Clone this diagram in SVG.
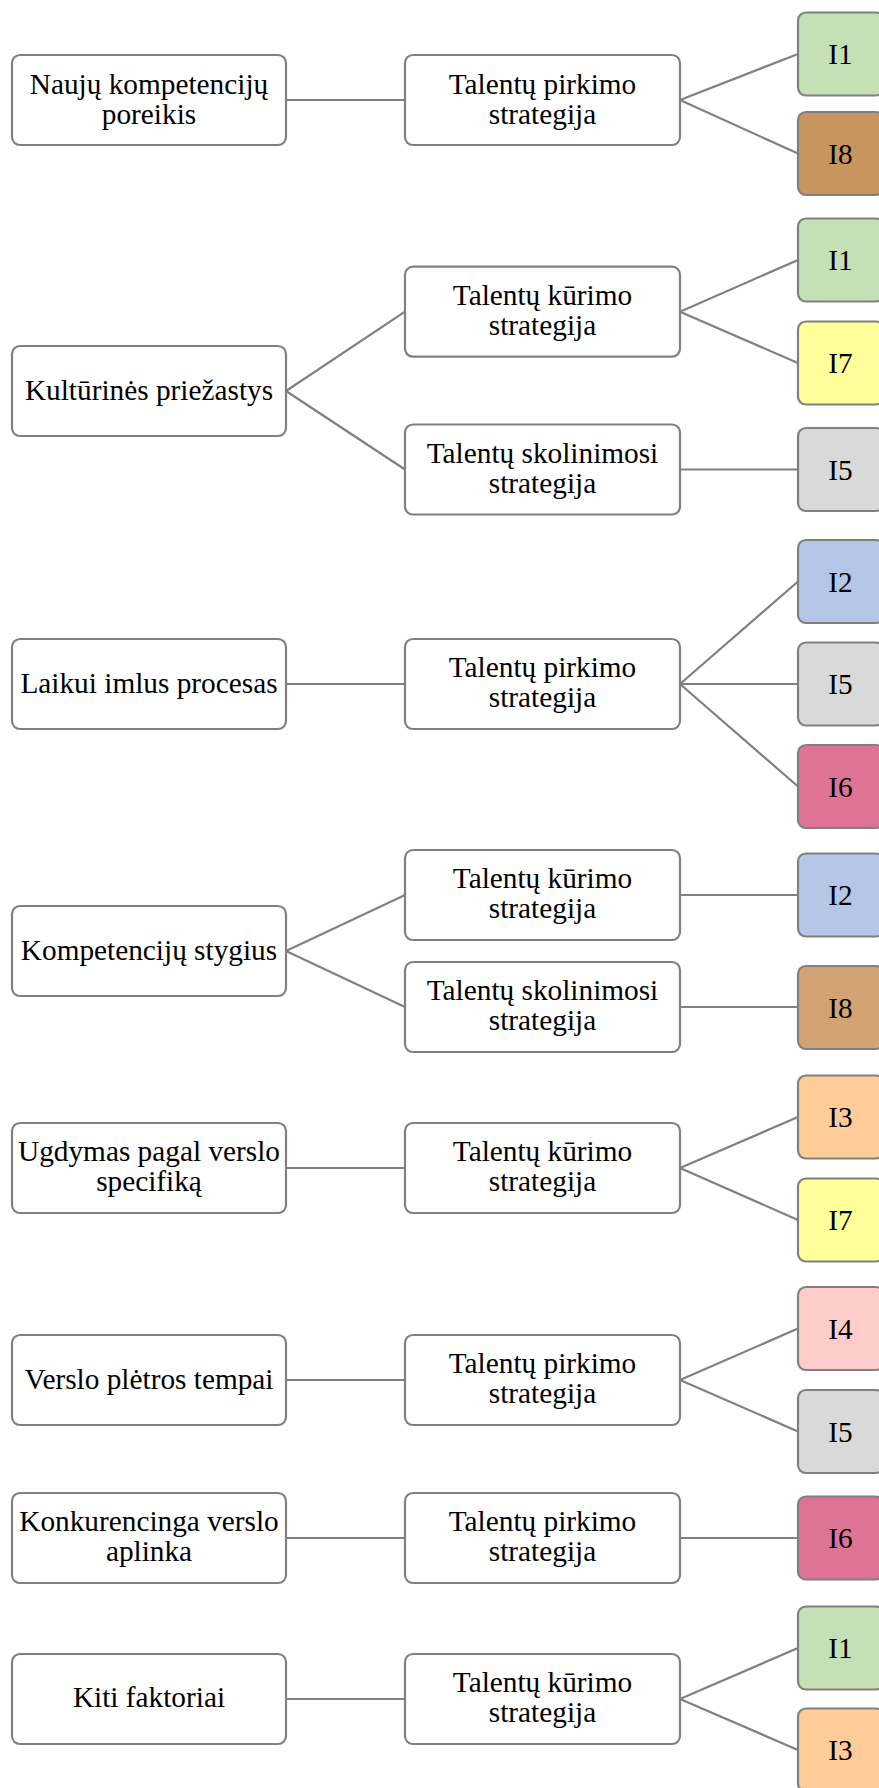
<svg xmlns="http://www.w3.org/2000/svg" width="879" height="1788" viewBox="0 0 879 1788">
  <style>
    .box { stroke: #808080; stroke-width: 2.2; }
    .w { fill: #ffffff; }
    .green { fill: #C5E0B4; }
    .brown { fill: #C9955F; }
    .tan { fill: #D4A373; }
    .yellow { fill: #FFFF99; }
    .grey { fill: #D9D9D9; }
    .blue { fill: #B4C7E7; }
    .rose { fill: #DE7396; }
    .peach { fill: #FFCC99; }
    .pink { fill: #FFCCCC; }
    text { font-family: "Liberation Serif", "Times New Roman", serif; font-size: 29.3px; fill: #000000; text-anchor: middle; }
    .conn line { stroke: #808080; stroke-width: 2.2; }
  </style>

  <!-- connectors -->
  <g id="connectors" class="conn">
    <!-- group 1 -->
    <line x1="286" y1="100" x2="405" y2="100"/>
    <line x1="680" y1="100" x2="798" y2="54"/>
    <line x1="680" y1="100" x2="798" y2="153.5"/>
    <!-- group 2 -->
    <line x1="286" y1="391" x2="405" y2="311.7"/>
    <line x1="286" y1="391" x2="405" y2="469.5"/>
    <line x1="680" y1="311.7" x2="798" y2="260"/>
    <line x1="680" y1="311.7" x2="798" y2="363"/>
    <line x1="680" y1="469.5" x2="798" y2="469.5"/>
    <!-- group 3 -->
    <line x1="286" y1="684" x2="405" y2="684"/>
    <line x1="680" y1="684" x2="798" y2="581.5"/>
    <line x1="680" y1="684" x2="798" y2="684"/>
    <line x1="680" y1="684" x2="798" y2="786.5"/>
    <!-- group 4 -->
    <line x1="286" y1="951" x2="405" y2="895"/>
    <line x1="286" y1="951" x2="405" y2="1007"/>
    <line x1="680" y1="895" x2="798" y2="895"/>
    <line x1="680" y1="1007" x2="798" y2="1007"/>
    <!-- group 5 -->
    <line x1="286" y1="1168" x2="405" y2="1168"/>
    <line x1="680" y1="1168" x2="798" y2="1117"/>
    <line x1="680" y1="1168" x2="798" y2="1220"/>
    <!-- group 6 -->
    <line x1="286" y1="1380" x2="405" y2="1380"/>
    <line x1="680" y1="1380" x2="798" y2="1328.5"/>
    <line x1="680" y1="1380" x2="798" y2="1431.5"/>
    <!-- group 7 -->
    <line x1="286" y1="1538" x2="405" y2="1538"/>
    <line x1="680" y1="1538" x2="798" y2="1538"/>
    <!-- group 8 -->
    <line x1="286" y1="1699" x2="405" y2="1699"/>
    <line x1="680" y1="1699" x2="798" y2="1648"/>
    <line x1="680" y1="1699" x2="798" y2="1750"/>
  </g>

  <!-- group 1 -->
  <g id="f-naujos">
    <rect class="box w" x="12" y="55" width="274" height="90" rx="8"/>
    <text x="149" y="93.5">Naujų kompetencijų</text>
    <text x="149" y="123.5">poreikis</text>
  </g>
  <g id="s-pirkimo-1">
    <rect class="box w" x="405" y="55" width="275" height="90" rx="8"/>
    <text x="542.5" y="93.5">Talentų pirkimo</text>
    <text x="542.5" y="123.5">strategija</text>
  </g>
  <g id="i1-a">
    <rect class="box green" x="798" y="12.5" width="86" height="83" rx="8"/>
    <text x="840.5" y="64">I1</text>
  </g>
  <g id="i8-a">
    <rect class="box brown" x="798" y="112" width="86" height="83" rx="8"/>
    <text x="840.5" y="163.5">I8</text>
  </g>

  <!-- group 2 -->
  <g id="f-kulturines">
    <rect class="box w" x="12" y="346" width="274" height="90" rx="8"/>
    <text x="149" y="400">Kultūrinės priežastys</text>
  </g>
  <g id="s-kurimo-2">
    <rect class="box w" x="405" y="266.7" width="275" height="90" rx="8"/>
    <text x="542.5" y="304.7">Talentų kūrimo</text>
    <text x="542.5" y="334.7">strategija</text>
  </g>
  <g id="s-skolinimosi-2">
    <rect class="box w" x="405" y="424.5" width="275" height="90" rx="8"/>
    <text x="542.5" y="462.5">Talentų skolinimosi</text>
    <text x="542.5" y="492.5">strategija</text>
  </g>
  <g id="i1-b">
    <rect class="box green" x="798" y="218.5" width="86" height="83" rx="8"/>
    <text x="840.5" y="270">I1</text>
  </g>
  <g id="i7-b">
    <rect class="box yellow" x="798" y="321.5" width="86" height="83" rx="8"/>
    <text x="840.5" y="373">I7</text>
  </g>
  <g id="i5-b">
    <rect class="box grey" x="798" y="428" width="86" height="83" rx="8"/>
    <text x="840.5" y="479.5">I5</text>
  </g>

  <!-- group 3 -->
  <g id="f-laikui">
    <rect class="box w" x="12" y="639" width="274" height="90" rx="8"/>
    <text x="149" y="693">Laikui imlus procesas</text>
  </g>
  <g id="s-pirkimo-3">
    <rect class="box w" x="405" y="639" width="275" height="90" rx="8"/>
    <text x="542.5" y="677">Talentų pirkimo</text>
    <text x="542.5" y="707">strategija</text>
  </g>
  <g id="i2-c">
    <rect class="box blue" x="798" y="540" width="86" height="83" rx="8"/>
    <text x="840.5" y="591.5">I2</text>
  </g>
  <g id="i5-c">
    <rect class="box grey" x="798" y="642.5" width="86" height="83" rx="8"/>
    <text x="840.5" y="694">I5</text>
  </g>
  <g id="i6-c">
    <rect class="box rose" x="798" y="745" width="86" height="83" rx="8"/>
    <text x="840.5" y="796.5">I6</text>
  </g>

  <!-- group 4 -->
  <g id="f-kompetenciju">
    <rect class="box w" x="12" y="906" width="274" height="90" rx="8"/>
    <text x="149" y="960">Kompetencijų stygius</text>
  </g>
  <g id="s-kurimo-4">
    <rect class="box w" x="405" y="850" width="275" height="90" rx="8"/>
    <text x="542.5" y="888">Talentų kūrimo</text>
    <text x="542.5" y="918">strategija</text>
  </g>
  <g id="s-skolinimosi-4">
    <rect class="box w" x="405" y="962" width="275" height="90" rx="8"/>
    <text x="542.5" y="1000">Talentų skolinimosi</text>
    <text x="542.5" y="1030">strategija</text>
  </g>
  <g id="i2-d">
    <rect class="box blue" x="798" y="853.5" width="86" height="83" rx="8"/>
    <text x="840.5" y="905">I2</text>
  </g>
  <g id="i8-d">
    <rect class="box tan" x="798" y="966" width="86" height="83" rx="8"/>
    <text x="840.5" y="1017.5">I8</text>
  </g>

  <!-- group 5 -->
  <g id="f-ugdymas">
    <rect class="box w" x="12" y="1123" width="274" height="90" rx="8"/>
    <text x="149" y="1161">Ugdymas pagal verslo</text>
    <text x="149" y="1191">specifiką</text>
  </g>
  <g id="s-kurimo-5">
    <rect class="box w" x="405" y="1123" width="275" height="90" rx="8"/>
    <text x="542.5" y="1161">Talentų kūrimo</text>
    <text x="542.5" y="1191">strategija</text>
  </g>
  <g id="i3-e">
    <rect class="box peach" x="798" y="1075.5" width="86" height="83" rx="8"/>
    <text x="840.5" y="1127">I3</text>
  </g>
  <g id="i7-e">
    <rect class="box yellow" x="798" y="1178.5" width="86" height="83" rx="8"/>
    <text x="840.5" y="1230">I7</text>
  </g>

  <!-- group 6 -->
  <g id="f-pletros">
    <rect class="box w" x="12" y="1335" width="274" height="90" rx="8"/>
    <text x="149" y="1389">Verslo plėtros tempai</text>
  </g>
  <g id="s-pirkimo-6">
    <rect class="box w" x="405" y="1335" width="275" height="90" rx="8"/>
    <text x="542.5" y="1373">Talentų pirkimo</text>
    <text x="542.5" y="1403">strategija</text>
  </g>
  <g id="i4-f">
    <rect class="box pink" x="798" y="1287" width="86" height="83" rx="8"/>
    <text x="840.5" y="1338.5">I4</text>
  </g>
  <g id="i5-f">
    <rect class="box grey" x="798" y="1390" width="86" height="83" rx="8"/>
    <text x="840.5" y="1441.5">I5</text>
  </g>

  <!-- group 7 -->
  <g id="f-konkurencinga">
    <rect class="box w" x="12" y="1493" width="274" height="90" rx="8"/>
    <text x="149" y="1531">Konkurencinga verslo</text>
    <text x="149" y="1561">aplinka</text>
  </g>
  <g id="s-pirkimo-7">
    <rect class="box w" x="405" y="1493" width="275" height="90" rx="8"/>
    <text x="542.5" y="1531">Talentų pirkimo</text>
    <text x="542.5" y="1561">strategija</text>
  </g>
  <g id="i6-g">
    <rect class="box rose" x="798" y="1496.5" width="86" height="83" rx="8"/>
    <text x="840.5" y="1548">I6</text>
  </g>

  <!-- group 8 -->
  <g id="f-kiti">
    <rect class="box w" x="12" y="1654" width="274" height="90" rx="8"/>
    <text x="149" y="1707">Kiti faktoriai</text>
  </g>
  <g id="s-kurimo-8">
    <rect class="box w" x="405" y="1654" width="275" height="90" rx="8"/>
    <text x="542.5" y="1692">Talentų kūrimo</text>
    <text x="542.5" y="1722">strategija</text>
  </g>
  <g id="i1-h">
    <rect class="box green" x="798" y="1606.5" width="86" height="83" rx="8"/>
    <text x="840.5" y="1658">I1</text>
  </g>
  <g id="i3-h">
    <rect class="box peach" x="798" y="1708.5" width="86" height="83" rx="8"/>
    <text x="840.5" y="1760">I3</text>
  </g>
</svg>
